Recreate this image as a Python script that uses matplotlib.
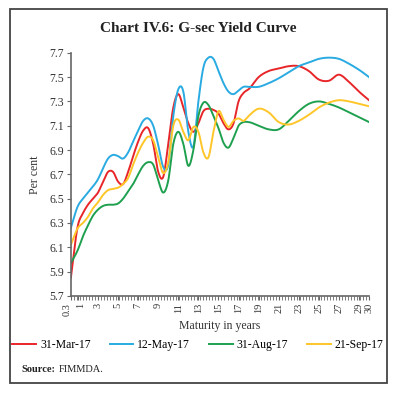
import numpy as np
import matplotlib
matplotlib.use("Agg")
import matplotlib.pyplot as plt
from matplotlib.patches import Rectangle
from matplotlib.transforms import ScaledTranslation

# maturity grid (years) and yields (per cent)
maturity = [0.3, 1, 1.5, 2, 2.5, 3, 3.5, 4, 4.5, 5, 5.5, 6, 6.5, 7, 7.5, 8, 8.5, 9,
            9.5, 10, 10.5, 11, 11.5, 12, 12.5, 13, 13.5, 14, 14.5, 15, 15.5, 16,
            16.5, 17, 17.5, 18, 19, 20, 21, 22, 23, 24, 25, 26, 27, 28, 29, 30]

mar17 = [5.85, 6.28, 6.38, 6.45, 6.50, 6.55, 6.64, 6.72, 6.72, 6.64, 6.62, 6.72,
         6.85, 6.97, 7.06, 7.08, 6.95, 6.72, 6.68, 6.95, 7.25, 7.36, 7.25, 7.12,
         7.05, 7.12, 7.22, 7.24, 7.23, 7.20, 7.12, 7.07, 7.12, 7.30, 7.37, 7.40,
         7.50, 7.55, 7.57, 7.59, 7.59, 7.55, 7.48, 7.47, 7.52, 7.46, 7.38, 7.31]

may17 = [6.26, 6.44, 6.50, 6.55, 6.60, 6.66, 6.75, 6.83, 6.86, 6.85, 6.83, 6.88,
         6.97, 7.06, 7.14, 7.16, 7.10, 6.94, 6.76, 6.78, 7.18, 7.40, 7.38, 7.05,
         6.93, 7.30, 7.58, 7.66, 7.65, 7.55, 7.45, 7.38, 7.36, 7.39, 7.42, 7.42,
         7.42, 7.45, 7.49, 7.54, 7.59, 7.62, 7.65, 7.66, 7.65, 7.61, 7.56, 7.50]

aug17 = [5.97, 6.08, 6.19, 6.28, 6.36, 6.41, 6.44, 6.45, 6.45, 6.46, 6.50, 6.56,
         6.62, 6.70, 6.77, 6.80, 6.78, 6.65, 6.55, 6.65, 6.95, 7.05, 6.95, 6.77,
         6.90, 7.18, 7.29, 7.27, 7.18, 7.08, 6.96, 6.92, 7.00, 7.10, 7.13, 7.13,
         7.10, 7.07, 7.07, 7.14, 7.22, 7.28, 7.30, 7.28, 7.25, 7.21, 7.17, 7.13]

sep17 = [6.12, 6.26, 6.30, 6.35, 6.42, 6.47, 6.53, 6.57, 6.58, 6.59, 6.62, 6.67,
         6.78, 6.88, 6.96, 7.01, 6.98, 6.84, 6.71, 6.80, 7.10, 7.15, 7.05, 6.98,
         7.09, 7.05, 6.88, 6.84, 7.05, 7.22, 7.15, 7.09, 7.14, 7.16, 7.14, 7.18,
         7.24, 7.21, 7.13, 7.11, 7.14, 7.19, 7.25, 7.29, 7.31, 7.30, 7.28, 7.26]

series = [("31-Mar-17", mar17, "#E8262A"),
          ("12-May-17", may17, "#29ABE2"),
          ("31-Aug-17", aug17, "#1FA04F"),
          ("21-Sep-17", sep17, "#FFC629")]

xtick_labels = ["0.3", "1"] + [str(v) for v in range(3, 30, 2)] + ["30"]


def smooth(x, y, n=20):
    # cubic hermite through the points, like a smoothed line in a spreadsheet
    x = np.asarray(x, float)
    y = np.asarray(y, float)
    m = np.gradient(y, x)
    xs, ys = [], []
    for i in range(len(x) - 1):
        h = x[i + 1] - x[i]
        t = np.linspace(0, 1, n, endpoint=False)
        h00 = 2 * t**3 - 3 * t**2 + 1
        h10 = t**3 - 2 * t**2 + t
        h01 = -2 * t**3 + 3 * t**2
        h11 = t**3 - t**2
        xs.append(x[i] + t * h)
        ys.append(h00 * y[i] + h10 * h * m[i] + h01 * y[i + 1] + h11 * h * m[i + 1])
    xs.append([x[-1]])
    ys.append([y[-1]])
    return np.concatenate(xs), np.concatenate(ys)


plt.rcParams["font.family"] = ["Liberation Serif", "DejaVu Serif"]

fig = plt.figure(figsize=(3.96, 3.94), dpi=100)
fig.patches.append(Rectangle((0.025, 0.028), 0.952, 0.949, transform=fig.transFigure,
                             fill=False, edgecolor="#444444", linewidth=1.3))

fig.text(0.5, 0.928, "Chart IV.6: G-sec Yield Curve", ha="center", va="center",
         fontsize=11, fontweight="bold", color="#222222")

ax = fig.add_axes([0.179, 0.249, 0.753, 0.617])
for label, vals, col in series:
    sx, sy = smooth(maturity, vals)
    ax.plot(sx, sy, color=col, linewidth=1.4, label=label)

ax.set_xlim(0.3, 30)
ax.set_ylim(5.7, 7.7)
ax.set_yticks(np.arange(5.7, 7.71, 0.2))
ax.set_yticklabels([f"{v:.1f}" for v in np.arange(5.7, 7.71, 0.2)])
ax.set_xticks([float(s) for s in xtick_labels])
ax.set_xticklabels(xtick_labels, rotation=90)
ax.set_xticks(np.arange(0.3, 30.01, 0.3), minor=True)

for side in ["top", "right"]:
    ax.spines[side].set_visible(False)
for side in ["left", "bottom"]:
    ax.spines[side].set_color("#666666")
    ax.spines[side].set_linewidth(1.2)
ax.tick_params(axis="both", which="both", direction="out", length=3,
               color="#666666", labelcolor="#333333", pad=2)
ax.tick_params(axis="y", labelsize=8.5)
ax.tick_params(axis="x", labelsize=7.5)

# "0.3" and "1" sit very close; pull them apart a touch
xl = ax.get_xticklabels()
xl[0].set_transform(xl[0].get_transform() + ScaledTranslation(-2.5 / 72, 0, fig.dpi_scale_trans))
xl[1].set_transform(xl[1].get_transform() + ScaledTranslation(2 / 72, 0, fig.dpi_scale_trans))

ax.set_ylabel("Per cent", fontsize=8.5, color="#333333", labelpad=6)
ax.set_xlabel("Maturity in years", fontsize=8.5, color="#333333", labelpad=3)

fig.legend(loc="center", bbox_to_anchor=(0.5, 0.124), ncol=4, frameon=False,
           fontsize=8.5, handlelength=2.0, handletextpad=0.35, columnspacing=1.6)

src = fig.text(0.053, 0.063, "Source:", fontsize=7.5, fontweight="bold",
               color="#222222", va="center")
ax.annotate("FIMMDA.", xy=(1, 0.5), xycoords=src, xytext=(2.5, 0),
            textcoords="offset points", va="center", fontsize=7.5, color="#222222",
            annotation_clip=False)

fig.savefig("out.png", dpi=100)
